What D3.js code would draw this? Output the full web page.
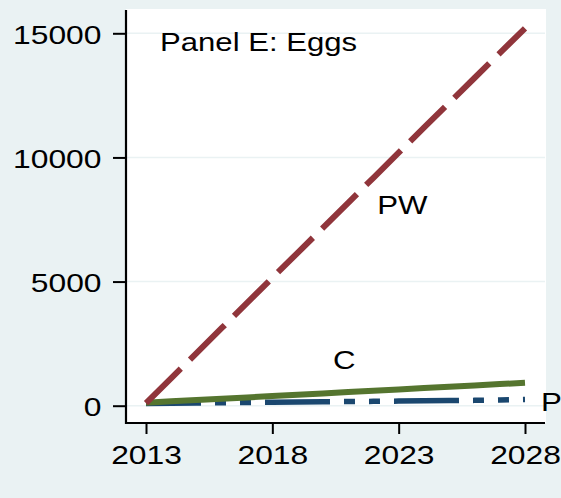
<!DOCTYPE html>
<html>
<head>
<meta charset="utf-8">
<script src="https://cdn.jsdelivr.net/npm/d3@7"></script>
<style>
html,body{margin:0;padding:0;background:#eaf2f3;}
svg{display:block;}
text{font-family:"Liberation Sans",Arial,sans-serif;fill:#000;}
</style>
</head>
<body>
<svg id="chart" width="561" height="498"></svg>
<script>
const years = [2013,2014,2015,2016,2017,2018,2019,2020,2021,2022,2023,2024,2025,2026,2027,2028];
const pwValues = [100,1110,2120,3130,4140,5150,6160,7160,8170,9180,10190,11200,12200,13200,14200,15200];
const cValues  = [120,175,230,280,335,390,440,495,550,600,655,710,760,815,870,925];
const pValues  = [90,100,110,120,130,140,150,160,165,175,185,195,205,215,230,250];
const yTicks = [0,5000,10000,15000];
const xTicks = [2013,2018,2023,2028];
const title = "Panel E: Eggs";
const seriesLabels = [
  {name:"PW", year:2022.15, value:7710},
  {name:"C",  year:2020.4,  value:1460},
  {name:"P",  year:2028.63, value:-200}
];

const svg = d3.select("#chart");
const W = 561, H = 498;
const SX = 1.2; // horizontal text stretch of the original export

svg.append("rect").attr("width",W).attr("height",H).attr("fill","#eaf2f3");

const plotL = 126, plotR = 546, plotT = 9, plotB = 423;
svg.append("rect").attr("x",plotL).attr("y",plotT).attr("width",plotR-plotL).attr("height",plotB-plotT).attr("fill","#ffffff");

const x = d3.scaleLinear().domain([2013,2028]).range([146,525]);
const y = d3.scaleLinear().domain([0,15000]).range([405.7,33.3]);

// gridlines
svg.append("g").selectAll("line").data(yTicks).join("line")
  .attr("x1",plotL).attr("x2",plotR-1)
  .attr("y1",d=>y(d)).attr("y2",d=>y(d))
  .attr("stroke","#eaf2f3").attr("stroke-width",1.5);

function stretchText(g, sx){
  const s = sx || SX;
  g.each(function(){
    const t = d3.select(this);
    const tx = +t.attr("data-x"), ty = +t.attr("data-y");
    t.attr("transform",`translate(${tx},${ty}) scale(${s},1)`);
  });
}

// Y axis
const yAxis = d3.axisLeft(y).tickValues(yTicks).tickSize(13).tickFormat(d3.format("d"));
const gy = svg.append("g").attr("transform",`translate(${plotL},0)`).call(yAxis);
gy.select(".domain").remove();
gy.selectAll(".tick line").attr("stroke","#000").attr("stroke-width",2);
gy.selectAll(".tick text").attr("font-size",26.5).attr("x",null).attr("dy",null)
  .attr("font-family","Liberation Sans, Arial, sans-serif")
  .attr("text-anchor","end")
  .each(function(){ d3.select(this).attr("data-x",-24.5).attr("data-y",10); })
  .call(stretchText);
svg.append("line").attr("x1",plotL).attr("x2",plotL).attr("y1",10).attr("y2",plotB+1)
  .attr("stroke","#000").attr("stroke-width",2.2);

// X axis
const xAxis = d3.axisBottom(x).tickValues(xTicks).tickSize(11).tickFormat(d3.format("d"));
const gx = svg.append("g").attr("transform",`translate(0,${plotB})`).call(xAxis);
gx.select(".domain").remove();
gx.selectAll(".tick line").attr("stroke","#000").attr("stroke-width",2);
gx.selectAll(".tick text").attr("font-size",26.5).attr("y",null).attr("dy",null)
  .attr("font-family","Liberation Sans, Arial, sans-serif")
  .attr("text-anchor","middle")
  .each(function(){ d3.select(this).attr("data-x",0).attr("data-y",41); })
  .call(stretchText);
svg.append("line").attr("x1",plotL-1).attr("x2",545).attr("y1",plotB).attr("y2",plotB)
  .attr("stroke","#000").attr("stroke-width",2.2);

// series
const line = d3.line().x(d=>x(d[0])).y(d=>y(d[1]));
const series = [
  {vals:pValues,  color:"#1a476f", width:5.5, dash:"65,14,11,14,11,14", offset:10},
  {vals:cValues,  color:"#55752f", width:6,   dash:null, offset:0},
  {vals:pwValues, color:"#90353b", width:6,   dash:"49,13", offset:0}
];
series.forEach(s=>{
  const p = svg.append("path")
    .datum(years.map((yr,i)=>[yr,s.vals[i]]))
    .attr("d",line).attr("fill","none")
    .attr("stroke",s.color).attr("stroke-width",s.width)
    .attr("stroke-linecap","butt").attr("stroke-linejoin","round");
  if (s.dash) p.attr("stroke-dasharray",s.dash).attr("stroke-dashoffset",s.offset);
});

// labels
svg.append("text").text(title).attr("font-size",25)
  .attr("data-x",160).attr("data-y",51).call(g=>stretchText(g,1.245));

svg.append("g").selectAll("text").data(seriesLabels).join("text")
  .text(d=>d.name).attr("font-size",26)
  .attr("data-x",d=>x(d.year)).attr("data-y",d=>y(d.value))
  .call(g=>stretchText(g));
</script>
</body>
</html>
